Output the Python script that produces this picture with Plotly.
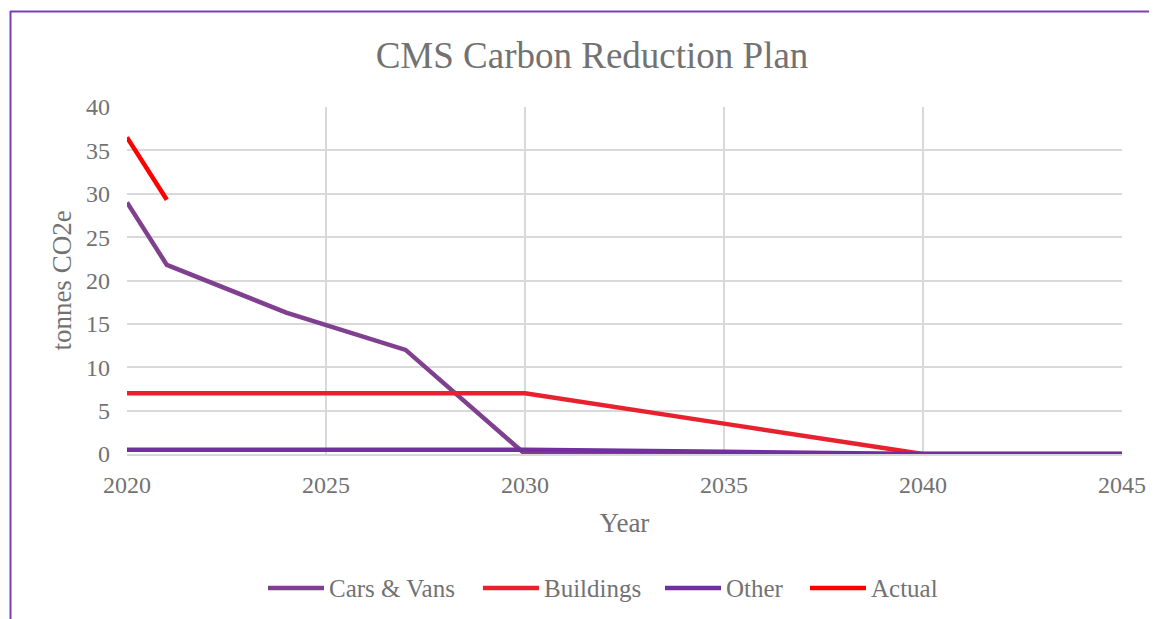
import plotly.graph_objects as go

years_cars = [2020, 2021, 2024, 2027, 2030, 2035, 2040, 2045]
cars_vans = [29.0, 21.8, 16.3, 12.0, 0.0, 0.0, 0.0, 0.0]

years_bld = [2020, 2025, 2030, 2035, 2040, 2045]
buildings = [7.0, 7.0, 7.0, 3.5, 0.0, 0.0]

years_other = [2020, 2025, 2030, 2035, 2040, 2045]
other = [0.5, 0.5, 0.5, 0.25, 0.0, 0.0]

years_actual = [2020, 2021]
actual = [36.5, 29.3]

series_names = ["Cars & Vans", "Buildings", "Other", "Actual"]
series_colors = ["#80408f", "#e8212f", "#7030a0", "#ff0000"]

FONT = "Liberation Serif, Times New Roman, serif"
GREY = "#727272"
GRID = "#d9d9d9"

fig = go.Figure()
for xs, ys, name, color in zip([years_cars, years_bld, years_other, years_actual],
                               [cars_vans, buildings, other, actual],
                               series_names, series_colors):
    fig.add_trace(go.Scatter(x=xs, y=ys, name=name, mode="lines",
                             line=dict(color=color, width=4.5), showlegend=False))

# page body has an 8px margin; compensate so screen positions match
OFF = 8
W, H = 1157 - OFF, 619 - OFF
L, R, T, B = 127 - OFF, 35, 107 - OFF, 165
pw, ph = W - L - R, H - T - B

def px2x(px):
    return (px - OFF - L) / pw

def px2y(py):
    return (H - B - (py - OFF)) / ph

# custom legend (lines longer than plotly's built-in legend symbols)
legend_line_starts = [268, 483, 665, 810]
legend_y = 588
shapes = []
annotations = []
for name, color, x0 in zip(series_names, series_colors, legend_line_starts):
    shapes.append(dict(type="line", xref="paper", yref="paper",
                       x0=px2x(x0), x1=px2x(x0 + 56), y0=px2y(legend_y), y1=px2y(legend_y),
                       line=dict(color=color, width=4.5)))
    annotations.append(dict(text=name, xref="paper", yref="paper",
                            x=px2x(x0 + 59), y=px2y(legend_y), xanchor="left", yanchor="middle",
                            showarrow=False, font=dict(family=FONT, size=25, color=GREY)))

shapes += [
    dict(type="line", xref="paper", yref="paper",
         x0=px2x(10.5), x1=px2x(10.5), y0=px2y(11), y1=px2y(640),
         line=dict(color="#7b3fb3", width=2)),
    dict(type="line", xref="paper", yref="paper",
         x0=px2x(10), x1=px2x(1180), y0=px2y(11.5), y1=px2y(11.5),
         line=dict(color="#7b3fb3", width=2)),
]

fig.update_layout(
    width=W, height=H,
    margin=dict(l=L, r=R, t=T, b=B),
    paper_bgcolor="white", plot_bgcolor="white",
    font=dict(family=FONT, color=GREY, size=24),
    title=dict(text="CMS Carbon Reduction Plan", x=px2x(592), xref="paper", y=1 - (55 - OFF) / H,
               yanchor="middle", xanchor="center",
               font=dict(family=FONT, size=37, color=GREY)),
    xaxis=dict(range=[2020, 2045], tickvals=[2020, 2025, 2030, 2035, 2040, 2045],
               showgrid=True, gridcolor=GRID, gridwidth=1.5,
               showline=True, linecolor=GRID, linewidth=2,
               zeroline=False, ticks="", tickfont=dict(size=24, color=GREY),
               ticklabelstandoff=8,
               title=dict(text="Year", font=dict(size=27, color=GREY), standoff=16)),
    yaxis=dict(range=[0, 40], tickvals=[0, 5, 10, 15, 20, 25, 30, 35, 40],
               showgrid=True, gridcolor=GRID, gridwidth=1.5,
               showline=False, zeroline=True, zerolinecolor=GRID, zerolinewidth=2,
               ticks="", tickfont=dict(size=24, color=GREY), ticklabelstandoff=16,
               title=dict(text="tonnes CO2e", font=dict(size=27, color=GREY), standoff=6)),
    showlegend=False,
    shapes=shapes,
    annotations=annotations,
)

fig.write_html("out.html")
